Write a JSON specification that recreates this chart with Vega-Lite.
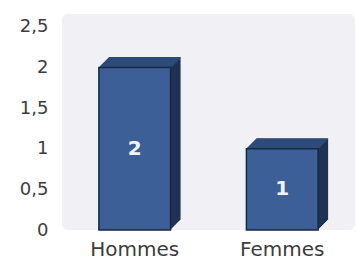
{
  "$schema": "https://vega.github.io/schema/vega-lite/v6.json",
  "autosize": "none",
  "width": 293,
  "height": 216,
  "padding": {"left": 62, "top": 14, "right": 2, "bottom": 35},
  "background": "#ffffff",
  "config": {
    "view": {"fill": "#f0f0f5", "stroke": null, "cornerRadius": 6},
    "font": "DejaVu Sans"
  },
  "data": {"values": [{"sexe": "Hommes", "n": 2}, {"sexe": "Femmes", "n": 1}]},
  "encoding": {
    "x": {
      "field": "sexe", "type": "nominal", "sort": null,
      "scale": {"paddingInner": 0.514, "paddingOuter": 0.25},
      "axis": {"title": null, "labelAngle": 0, "ticks": false, "domain": false, "labelFontSize": 20, "labelColor": "#3c3c3c", "labelPadding": 9, "labelFont": "DejaVu Sans"}
    },
    "y": {
      "field": "n", "type": "quantitative",
      "scale": {"domain": [0, 2.66], "nice": false},
      "axis": {"title": null, "values": [0, 0.5, 1, 1.5, 2, 2.5], "labelExpr": "replace(format(datum.value, '~g'), '.', ',')", "ticks": false, "domain": false, "grid": false, "labelFontSize": 18, "labelColor": "#3c3c3c", "labelPadding": 14, "labelFont": "DejaVu Sans"}
    }
  },
  "layer": [
    {
      "layer": [
        {"mark": {"type": "bar", "fill": "#1f3355", "xOffset": 10, "x2Offset": 10, "yOffset": -10, "y2Offset": -10}},
        {"mark": {"type": "bar", "fill": "#1f3355", "xOffset": 9, "x2Offset": 9, "yOffset": -9, "y2Offset": -9}},
        {"mark": {"type": "bar", "fill": "#1f3355", "xOffset": 8, "x2Offset": 8, "yOffset": -8, "y2Offset": -8}},
        {"mark": {"type": "bar", "fill": "#1f3355", "xOffset": 7, "x2Offset": 7, "yOffset": -7, "y2Offset": -7}},
        {"mark": {"type": "bar", "fill": "#1f3355", "xOffset": 6, "x2Offset": 6, "yOffset": -6, "y2Offset": -6}},
        {"mark": {"type": "bar", "fill": "#1f3355", "xOffset": 5, "x2Offset": 5, "yOffset": -5, "y2Offset": -5}},
        {"mark": {"type": "bar", "fill": "#1f3355", "xOffset": 4, "x2Offset": 4, "yOffset": -4, "y2Offset": -4}},
        {"mark": {"type": "bar", "fill": "#1f3355", "xOffset": 3, "x2Offset": 3, "yOffset": -3, "y2Offset": -3}},
        {"mark": {"type": "bar", "fill": "#1f3355", "xOffset": 2, "x2Offset": 2, "yOffset": -2, "y2Offset": -2}},
        {"mark": {"type": "bar", "fill": "#1f3355", "xOffset": 1, "x2Offset": 1, "yOffset": -1, "y2Offset": -1}},
        {"mark": {"type": "bar", "fill": "#2e4b78", "xOffset": 1, "x2Offset": 1, "yOffset": -1.8, "y2Offset": 0}, "encoding": {"y2": {"field": "n"}}},
        {"mark": {"type": "bar", "fill": "#2e4b78", "xOffset": 2, "x2Offset": 2, "yOffset": -2.8, "y2Offset": -1}, "encoding": {"y2": {"field": "n"}}},
        {"mark": {"type": "bar", "fill": "#2e4b78", "xOffset": 3, "x2Offset": 3, "yOffset": -3.8, "y2Offset": -2}, "encoding": {"y2": {"field": "n"}}},
        {"mark": {"type": "bar", "fill": "#2e4b78", "xOffset": 4, "x2Offset": 4, "yOffset": -4.8, "y2Offset": -3}, "encoding": {"y2": {"field": "n"}}},
        {"mark": {"type": "bar", "fill": "#2e4b78", "xOffset": 5, "x2Offset": 5, "yOffset": -5.8, "y2Offset": -4}, "encoding": {"y2": {"field": "n"}}},
        {"mark": {"type": "bar", "fill": "#2e4b78", "xOffset": 6, "x2Offset": 6, "yOffset": -6.8, "y2Offset": -5}, "encoding": {"y2": {"field": "n"}}},
        {"mark": {"type": "bar", "fill": "#2e4b78", "xOffset": 7, "x2Offset": 7, "yOffset": -7.8, "y2Offset": -6}, "encoding": {"y2": {"field": "n"}}},
        {"mark": {"type": "bar", "fill": "#2e4b78", "xOffset": 8, "x2Offset": 8, "yOffset": -8.8, "y2Offset": -7}, "encoding": {"y2": {"field": "n"}}},
        {"mark": {"type": "bar", "fill": "#2e4b78", "xOffset": 9, "x2Offset": 9, "yOffset": -9.8, "y2Offset": -8}, "encoding": {"y2": {"field": "n"}}},
        {"mark": {"type": "bar", "fill": "#2e4b78", "xOffset": 10, "x2Offset": 10, "yOffset": -10.5, "y2Offset": -9}, "encoding": {"y2": {"field": "n"}}},
        {"mark": {"type": "bar", "fill": "#3b5f96", "stroke": "#1a2840", "strokeWidth": 1.5}}
      ]
    },
    {
      "mark": {"type": "text", "color": "#f2f5fa", "fontSize": 20, "fontWeight": "bold", "font": "DejaVu Sans", "baseline": "middle"},
      "encoding": {
        "y": {"field": "n", "type": "quantitative", "scale": {"domain": [0, 5.32], "nice": false}, "axis": null},
        "text": {"field": "n", "type": "quantitative"}
      }
    }
  ],
  "resolve": {"scale": {"y": "independent"}, "axis": {"y": "independent"}}
}
